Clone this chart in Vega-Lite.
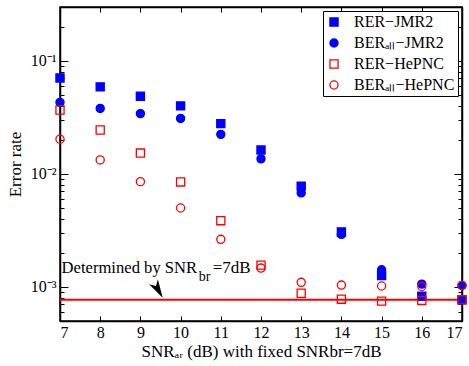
{
  "$schema": "https://vega.github.io/schema/vega-lite/v6.json",
  "width": 402,
  "height": 314,
  "autosize": {"type": "none"},
  "padding": {"left": 60, "top": 7, "right": 7, "bottom": 45},
  "config": {
    "font": "Liberation Serif",
    "view": {"stroke": "black", "strokeWidth": 1.5},
    "axis": {
      "labelFont": "Liberation Serif",
      "labelFontSize": 16,
      "labelColor": "black",
      "titleFont": "Liberation Serif",
      "titleFontSize": 17,
      "titleFontWeight": "normal",
      "titleColor": "black",
      "domainColor": "black",
      "domainWidth": 1.5,
      "tickColor": "black",
      "tickWidth": 1,
      "grid": false
    }
  },
  "datasets": {
    "points": [
      {"snr": 7, "rate": 0.0707, "series": "RER−JMR2"},
      {"snr": 8, "rate": 0.0589, "series": "RER−JMR2"},
      {"snr": 9, "rate": 0.0487, "series": "RER−JMR2"},
      {"snr": 10, "rate": 0.0400, "series": "RER−JMR2"},
      {"snr": 11, "rate": 0.0279, "series": "RER−JMR2"},
      {"snr": 12, "rate": 0.0163, "series": "RER−JMR2"},
      {"snr": 13, "rate": 0.0078, "series": "RER−JMR2"},
      {"snr": 14, "rate": 0.00307, "series": "RER−JMR2"},
      {"snr": 15, "rate": 0.00126, "series": "RER−JMR2"},
      {"snr": 16, "rate": 0.00083, "series": "RER−JMR2"},
      {"snr": 17, "rate": 0.00077, "series": "RER−JMR2"},
      {"snr": 7, "rate": 0.0430, "series": "BERₐₗₗ−JMR2"},
      {"snr": 8, "rate": 0.0380, "series": "BERₐₗₗ−JMR2"},
      {"snr": 9, "rate": 0.0342, "series": "BERₐₗₗ−JMR2"},
      {"snr": 10, "rate": 0.0310, "series": "BERₐₗₗ−JMR2"},
      {"snr": 11, "rate": 0.0224, "series": "BERₐₗₗ−JMR2"},
      {"snr": 12, "rate": 0.0136, "series": "BERₐₗₗ−JMR2"},
      {"snr": 13, "rate": 0.0068, "series": "BERₐₗₗ−JMR2"},
      {"snr": 14, "rate": 0.00292, "series": "BERₐₗₗ−JMR2"},
      {"snr": 15, "rate": 0.00142, "series": "BERₐₗₗ−JMR2"},
      {"snr": 16, "rate": 0.00106, "series": "BERₐₗₗ−JMR2"},
      {"snr": 17, "rate": 0.00103, "series": "BERₐₗₗ−JMR2"},
      {"snr": 7, "rate": 0.0368, "series": "RER−HePNC"},
      {"snr": 8, "rate": 0.0245, "series": "RER−HePNC"},
      {"snr": 9, "rate": 0.0153, "series": "RER−HePNC"},
      {"snr": 10, "rate": 0.0085, "series": "RER−HePNC"},
      {"snr": 11, "rate": 0.00386, "series": "RER−HePNC"},
      {"snr": 12, "rate": 0.00156, "series": "RER−HePNC"},
      {"snr": 13, "rate": 0.00088, "series": "RER−HePNC"},
      {"snr": 14, "rate": 0.00078, "series": "RER−HePNC"},
      {"snr": 15, "rate": 0.00075, "series": "RER−HePNC"},
      {"snr": 16, "rate": 0.00076, "series": "RER−HePNC"},
      {"snr": 17, "rate": 0.00077, "series": "RER−HePNC"},
      {"snr": 7, "rate": 0.0203, "series": "BERₐₗₗ−HePNC"},
      {"snr": 8, "rate": 0.0133, "series": "BERₐₗₗ−HePNC"},
      {"snr": 9, "rate": 0.00855, "series": "BERₐₗₗ−HePNC"},
      {"snr": 10, "rate": 0.0050, "series": "BERₐₗₗ−HePNC"},
      {"snr": 11, "rate": 0.00264, "series": "BERₐₗₗ−HePNC"},
      {"snr": 12, "rate": 0.00147, "series": "BERₐₗₗ−HePNC"},
      {"snr": 13, "rate": 0.00110, "series": "BERₐₗₗ−HePNC"},
      {"snr": 14, "rate": 0.00104, "series": "BERₐₗₗ−HePNC"},
      {"snr": 15, "rate": 0.00102, "series": "BERₐₗₗ−HePNC"},
      {"snr": 16, "rate": 0.00101, "series": "BERₐₗₗ−HePNC"},
      {"snr": 17, "rate": 0.00103, "series": "BERₐₗₗ−HePNC"}
    ],
    "one": [{}]
  },
  "layer": [
    {
      "data": {"name": "one"},
      "mark": {"type": "rule", "color": "#ff0000", "strokeWidth": 2},
      "encoding": {
        "y": {"datum": 0.00077, "type": "quantitative", "axis": null, "scale": {"type": "log", "domain": [0.0005, 0.3], "nice": false}}
      }
    },
    {
      "data": {"name": "points"},
      "mark": {"type": "point", "size": 66, "strokeWidth": 1.3, "opacity": 1},
      "encoding": {
        "x": {
          "field": "snr", "type": "quantitative",
          "scale": {"domain": [7, 17], "nice": false, "zero": false},
          "axis": {
            "orient": "bottom",
            "values": [7, 8, 9, 10, 11, 12, 13, 14, 15, 16, 17],
            "tickSize": -5,
            "labelPadding": 8,
            "labelFontSize": 16,
            "title": "SNRₐᵣ (dB) with fixed SNRbr=7dB",
            "titleFontSize": 17,
            "titlePadding": 3
          }
        },
        "y": {
          "field": "rate", "type": "quantitative",
          "scale": {"type": "log", "domain": [0.0005, 0.3], "nice": false},
          "axis": {
            "orient": "left",
            "values": [0.0005, 0.0006, 0.0007, 0.0008, 0.0009, 0.001, 0.002, 0.003, 0.004, 0.005, 0.006, 0.007, 0.008, 0.009, 0.01, 0.02, 0.03, 0.04, 0.05, 0.06, 0.07, 0.08, 0.09, 0.1, 0.2, 0.3],
            "labelExpr": "datum.value == 0.1 ? '10⁻¹' : datum.value == 0.01 ? '10⁻²' : datum.value == 0.001 ? '10⁻³' : ''",
            "labelOverlap": false,
            "labelFontSize": 16,
            "tickSize": {"condition": {"test": "datum.value == 0.1 || datum.value == 0.01 || datum.value == 0.001", "value": -8}, "value": -4},
            "labelPadding": 12,
            "title": "Error rate",
            "titleFontSize": 17,
            "titlePadding": 6
          }
        },
        "shape": {
          "field": "series", "type": "nominal", "title": null,
          "scale": {"domain": ["RER−JMR2", "BERₐₗₗ−JMR2", "RER−HePNC", "BERₐₗₗ−HePNC"], "range": ["square", "circle", "square", "circle"]}
        },
        "fill": {
          "field": "series", "type": "nominal", "title": null,
          "scale": {"domain": ["RER−JMR2", "BERₐₗₗ−JMR2", "RER−HePNC", "BERₐₗₗ−HePNC"], "range": ["#0000ff", "#0000ff", "transparent", "transparent"]}
        },
        "stroke": {
          "field": "series", "type": "nominal", "title": null,
          "scale": {"domain": ["RER−JMR2", "BERₐₗₗ−JMR2", "RER−HePNC", "BERₐₗₗ−HePNC"], "range": ["#0000ff", "#0000ff", "#ff0000", "#ff0000"]},
          "legend": {
            "orient": "top-right",
            "offset": 4,
            "padding": 3,
            "strokeColor": "black",
            "fillColor": "white",
            "labelFont": "Liberation Serif",
            "labelFontSize": 16,
            "labelColor": "black",
            "labelOffset": 12,
            "symbolSize": 66,
            "symbolStrokeWidth": 1.3,
            "rowPadding": 5
          }
        }
      }
    },
    {
      "data": {"name": "points"},
      "mark": {"type": "point", "opacity": 0},
      "encoding": {
        "x": {
          "field": "snr", "type": "quantitative",
          "axis": {"orient": "top", "values": [7, 8, 9, 10, 11, 12, 13, 14, 15, 16, 17], "tickSize": -5, "labels": false, "title": null}
        },
        "y": {
          "field": "rate", "type": "quantitative",
          "axis": {
            "orient": "right",
            "values": [0.0005, 0.0006, 0.0007, 0.0008, 0.0009, 0.001, 0.002, 0.003, 0.004, 0.005, 0.006, 0.007, 0.008, 0.009, 0.01, 0.02, 0.03, 0.04, 0.05, 0.06, 0.07, 0.08, 0.09, 0.1, 0.2, 0.3],
            "tickSize": {"condition": {"test": "datum.value == 0.1 || datum.value == 0.01 || datum.value == 0.001", "value": -8}, "value": -4},
            "labels": false, "title": null
          }
        }
      }
    },
    {
      "data": {"name": "one"},
      "mark": {"type": "text", "text": "Determined by SNR", "align": "left", "baseline": "alphabetic", "fontSize": 16.6, "font": "Liberation Serif", "color": "black"},
      "encoding": {
        "x": {"datum": 7.04, "type": "quantitative", "axis": null},
        "y": {"datum": 0.00133, "type": "quantitative", "axis": null}
      }
    },
    {
      "data": {"name": "one"},
      "mark": {"type": "text", "text": "br", "align": "left", "baseline": "alphabetic", "fontSize": 14, "font": "Liberation Serif", "color": "black"},
      "encoding": {
        "x": {"datum": 10.45, "type": "quantitative", "axis": null},
        "y": {"datum": 0.00112, "type": "quantitative", "axis": null}
      }
    },
    {
      "data": {"name": "one"},
      "mark": {"type": "text", "text": "=7dB", "align": "left", "baseline": "alphabetic", "fontSize": 17, "font": "Liberation Serif", "color": "black"},
      "encoding": {
        "x": {"datum": 10.8, "type": "quantitative", "axis": null},
        "y": {"datum": 0.00133, "type": "quantitative", "axis": null}
      }
    },
    {
      "data": {"name": "one"},
      "mark": {"type": "point", "shape": "M0,1L-0.55,-1L0,-0.45L0.55,-1Z", "filled": true, "color": "black", "opacity": 1, "size": 340, "angle": -30},
      "encoding": {
        "x": {"datum": 9.44, "type": "quantitative", "axis": null},
        "y": {"datum": 0.000946, "type": "quantitative", "axis": null}
      }
    }
  ],
  "resolve": {"axis": {"x": "independent", "y": "independent"}}
}
